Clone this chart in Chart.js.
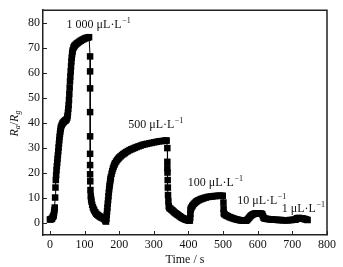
<!DOCTYPE html>
<html lang="en">
<head>
<meta charset="UTF-8">
<title>Ra/Rg response vs time</title>
<script src="https://cdn.jsdelivr.net/npm/chart.js"></script>
<style>
  body, html { margin: 0; padding: 0; background: #fff; overflow: hidden; }
  #wrap { width: 343px; height: 267px; }
</style>
</head>
<body>
<div id="wrap"><canvas id="chart"></canvas></div>
<script>
// time (s) and response Ra/Rg
const times = [
  0, 2, 4, 6, 8, 10,
  11, 12, 13, 14, 15, 16, 17, 18, 19, 20, 21, 22, 23, 24, 25, 26, 27, 28, 29, 30, 31, 32,
  34, 36, 38, 40, 42, 44, 46, 48, 50,
  51, 52, 53, 54, 55, 56, 57, 58, 59, 60, 61, 62, 63, 64, 65, 66,
  68, 70, 72, 75, 78, 81, 85, 89, 93, 97, 101, 105, 109, 113,
  116, 116, 116, 116, 116, 116, 116, 116,
  116.5, 117, 118, 119, 120, 122, 124, 126, 128, 131, 134, 137, 140, 143, 146, 149, 152, 155, 158, 160,
  161, 162, 163, 164, 165, 166, 167, 168, 169, 170, 171, 172, 173, 174, 175, 176, 178, 180, 182, 184,
  186, 188, 191, 194, 197, 200, 204, 208, 212, 216, 220, 225, 230, 235, 240, 245, 250, 256, 262, 268,
  274, 280, 287, 294, 301, 308, 315, 322, 329, 334, 337,
  339, 339, 339, 339.5, 340, 340.5, 341, 342, 343,
  345, 348, 351, 354, 357, 360, 363, 366, 369, 372, 375, 378, 381, 384, 387, 390, 393, 396, 399, 402, 404,
  405, 405.5, 406, 407, 409, 411, 413, 416, 419, 422, 425, 429, 433, 437, 441, 445, 450, 455, 460, 465,
  470, 475, 480, 485, 490, 495, 499,
  501, 501.5, 502, 503, 505, 508, 511, 514, 518, 522, 526, 530, 534, 538, 542, 546, 550, 554, 558, 562,
  566, 569, 572, 575, 578, 581, 584, 587, 590, 593, 596, 599, 602, 605, 608, 611, 613, 615, 617, 620,
  624, 628, 633, 638, 643, 648, 653, 658, 663, 668, 673, 678, 683, 688, 693, 698, 703, 707, 710, 712,
  714, 717, 720, 723, 726, 729, 732, 735, 738, 741, 744
];
const ratio = [
  1.2, 1.3, 1.4, 1.5, 2.2, 2.5,
  3, 4, 5, 6, 10, 14, 17, 19, 21, 22.5, 24, 25.5, 27, 28.5, 30, 31.5, 33, 34.3, 35.5, 36.5, 37.5, 38.3,
  39, 39.6, 40, 40.3, 40.6, 40.8, 41, 41.3, 42,
  42.8, 44, 45.5, 47, 49, 51.5, 54, 56.5, 58.5, 60.5, 62.5, 64.5, 66, 67.3, 68.3, 69,
  70, 70.5, 70.9, 71.3, 71.7, 72, 72.4, 72.8, 73.1, 73.4, 73.7, 73.9, 74, 74.2,
  66.5, 60.5, 53.7, 44.2, 34.5, 27.5, 23, 19.3,
  16.5, 13, 10.5, 9.3, 8.4, 7.1, 6.1, 5.4, 4.8, 4.1, 3.5, 3.1, 2.8, 2.5, 2.2, 2, 1.8, 1.6, 1.3, 1,
  0.6, 0.4, 1.5, 3, 4.5, 6, 7.5, 9, 10.5, 12, 13.3, 14.5, 15.5, 16.5, 17.4, 18.2, 19.5, 20.6, 21.6, 22.4,
  23.1, 23.7, 24.4, 25, 25.5, 26, 26.5, 27, 27.4, 27.8, 28.2, 28.6, 29, 29.3, 29.6, 29.9, 30.2, 30.5, 30.8, 31.1,
  31.3, 31.5, 31.7, 31.9, 32.1, 32.3, 32.5, 32.6, 32.7, 32.8, 32.8,
  29.8, 24.3, 21.7, 20, 17, 14, 11, 8.5, 6.5,
  5.8, 5.5, 5.1, 4.8, 4.4, 4, 3.7, 3.4, 3.1, 2.8, 2.5, 2.2, 1.9, 1.7, 1.5, 1.3, 1.1, 1, 0.9, 0.8, 0.8,
  2, 3.5, 5, 5.6, 6.1, 6.6, 7, 7.5, 7.9, 8.3, 8.6, 8.9, 9.2, 9.4, 9.6, 9.8, 10, 10.2, 10.3, 10.4,
  10.5, 10.6, 10.6, 10.7, 10.7, 10.7, 10.7,
  8, 5.5, 3.8, 3.5, 3.2, 2.9, 2.7, 2.5, 2.2, 2, 1.8, 1.6, 1.4, 1.3, 1.1, 1, 0.9, 0.8, 0.8, 0.7,
  0.7, 1, 1.4, 1.9, 2.4, 2.8, 3.1, 3.3, 3.5, 3.6, 3.7, 3.7, 3.7, 3.6, 3.6, 3.5, 3.3, 2.6, 1.9, 1.6,
  1.5, 1.4, 1.3, 1.2, 1.2, 1.1, 1.1, 1, 1, 1, 0.9, 0.9, 0.9, 0.9, 1, 1, 1.1, 1.1, 1.2, 1.5,
  1.7, 1.8, 1.8, 1.7, 1.7, 1.6, 1.5, 1.4, 1.3, 1.1, 1
];
const xTicks = [0, 100, 200, 300, 400, 500, 600, 700, 800];
const yTicks = [0, 10, 20, 30, 40, 50, 60, 70, 80];

// concentration notes placed in data coordinates
const concText = ['1 000', '500', '100', '10', '1'];
const concX = [140, 305, 477, 611, 731];
const concY = [79, 39, 15.7, 8.6, 5.5];

const SERIF = '"Liberation Serif", "Times New Roman", serif';
const INK = '#111';

const extras = {
  id: 'extras',
  beforeDraw(chart) {
    const ctx = chart.ctx;
    ctx.save();
    ctx.fillStyle = '#fff';
    ctx.fillRect(0, 0, chart.width, chart.height);
    ctx.restore();
  },
  afterDraw(chart) {
    const { ctx, chartArea: a, scales: { x, y } } = chart;
    ctx.save();
    // top and right edges of the frame
    ctx.strokeStyle = '#222';
    ctx.lineWidth = 1.5;
    ctx.beginPath();
    ctx.moveTo(a.left, a.top);
    ctx.lineTo(a.right, a.top);
    ctx.lineTo(a.right, a.bottom);
    ctx.stroke();

    // inward tick marks
    ctx.lineWidth = 1;
    ctx.beginPath();
    xTicks.forEach(v => {
      const px = Math.round(x.getPixelForValue(v)) + 0.5;
      ctx.moveTo(px, a.bottom);
      ctx.lineTo(px, a.bottom - 4);
    });
    yTicks.forEach(v => {
      const py = Math.round(y.getPixelForValue(v)) + 0.5;
      ctx.moveTo(a.left, py);
      ctx.lineTo(a.left + 4, py);
    });
    ctx.stroke();

    // concentration labels with superscript -1
    ctx.fillStyle = INK;
    ctx.textBaseline = 'middle';
    ctx.textAlign = 'left';
    concText.forEach((c, i) => {
      const main = c + ' \u03bcL\u00b7L';
      ctx.font = '12px ' + SERIF;
      const w1 = ctx.measureText(main).width;
      ctx.font = '8px ' + SERIF;
      const w2 = ctx.measureText('\u22121').width;
      const cx = x.getPixelForValue(concX[i]);
      const cy = y.getPixelForValue(concY[i]);
      const x0 = cx - (w1 + w2) / 2;
      ctx.font = '12px ' + SERIF;
      ctx.fillText(main, x0, cy);
      ctx.font = '8px ' + SERIF;
      ctx.fillText('\u22121', x0 + w1 + 0.5, cy - 4);
    });

    // y axis title R_a / R_g
    ctx.translate(15, (a.top + a.bottom) / 2 + 1);
    ctx.rotate(-Math.PI / 2);
    const parts = [
      ['R', 'italic 12px ', 0], ['a', 'italic 8px ', 3],
      ['/', '12px ', 0], ['R', 'italic 12px ', 0], ['g', 'italic 8px ', 3]
    ];
    let total = 0;
    parts.forEach(p => { ctx.font = p[1] + SERIF; total += ctx.measureText(p[0]).width; });
    let px = -total / 2;
    parts.forEach(p => {
      ctx.font = p[1] + SERIF;
      ctx.fillText(p[0], px, p[2]);
      px += ctx.measureText(p[0]).width;
    });
    ctx.restore();
  }
};

new Chart(document.getElementById('chart'), {
  type: 'scatter',
  data: {
    datasets: [{
      data: times.map((t, i) => ({ x: t, y: ratio[i] })),
      showLine: true,
      borderColor: '#000',
      borderWidth: 1,
      backgroundColor: '#000',
      pointBorderColor: '#000',
      pointStyle: 'rect',
      pointRadius: 4.6,
      pointBorderWidth: 0,
      clip: false
    }]
  },
  options: {
    responsive: true,
    maintainAspectRatio: false,
    animation: false,
    layout: { padding: { top: 6, right: 16, left: 0, bottom: 0 } },
    plugins: { legend: { display: false }, tooltip: { enabled: false } },
    scales: {
      x: {
        type: 'linear',
        min: -20,
        max: 800,
        grid: { display: false, drawTicks: false },
        border: { display: true, color: '#222', width: 1.5 },
        ticks: { color: INK, font: { family: SERIF, size: 12 }, padding: 3 },
        afterBuildTicks: s => { s.ticks = xTicks.map(v => ({ value: v })); },
        title: { display: true, text: 'Time / s', color: INK, font: { family: SERIF, size: 12 }, padding: { top: 1, bottom: 0 } },
        afterFit: s => { s.height = 32; }
      },
      y: {
        type: 'linear',
        min: -5,
        max: 85,
        grid: { display: false, drawTicks: false },
        border: { display: true, color: '#222', width: 1.5 },
        ticks: { color: INK, font: { family: SERIF, size: 12 }, padding: 3 },
        afterBuildTicks: s => { s.ticks = yTicks.map(v => ({ value: v })); },
        afterFit: s => { s.width = 43; }
      }
    }
  },
  plugins: [extras]
});
</script>
</body>
</html>
